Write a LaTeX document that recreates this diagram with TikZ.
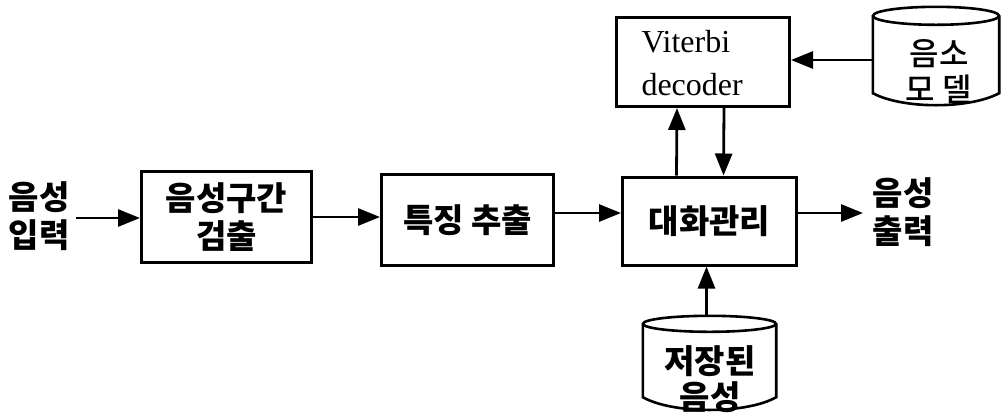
\documentclass[tikz,border=0pt]{standalone}
\usepackage{fontspec}
\setmainfont{Liberation Serif}
\newfontfamily\kr{Noto Sans CJK KR}
\newfontfamily\krm{Noto Sans CJK KR Medium}
\usetikzlibrary{arrows.meta,calc}
\tikzset{
  blk/.style={draw,line width=3pt,inner sep=0pt,align=center,font=\kr\bfseries\fontsize{33}{38}\selectfont},
  lbl/.style={inner sep=0pt,align=center,font=\kr\bfseries\fontsize{33}{38}\selectfont},
  dbox/.style={inner sep=0pt},
  conn/.style={line width=2.8pt,-{Triangle[length=22pt,width=17pt]}},
  cyl/.style={line width=2.6pt,fill=white}
}
\begin{document}
\begin{tikzpicture}[x=1pt,y=-1pt]
\useasboundingbox (0,0) rectangle (1003,416);
% blocks
\node[blk,minimum width=170pt,minimum height=91pt] (det) at (226.5,217) {음성구간\\검출};
\node[blk,minimum width=172pt,minimum height=91pt] (feat) at (467.5,220) {특징 추출};
\node[blk,minimum width=174pt,minimum height=88pt] (dlg) at (709.5,221) {대화관리};
\node[blk,minimum width=173pt,minimum height=89pt,font=\fontsize{32}{38}\selectfont,align=left,text width=123pt] (vit) at (703,62) {\rule{0pt}{24pt}Viterbi\\[5pt]decoder};
% text labels
\node[lbl] (in) at (39,216) {음성\\입력};
\node[lbl] (out) at (903,212) {음성\\출력};
% cylinders
\node[dbox,minimum width=126pt,minimum height=100pt] (db1) at (936,57) {};
\draw[cyl] ($(db1.north west)+(0,9)$) -- ($(db1.south west)+(0,-14)$)
  .. controls ($(db1.south west)+(30,2)$) and ($(db1.south east)+(-30,2)$) .. ($(db1.south east)+(0,-14)$)
  -- ($(db1.north east)+(0,9)$);
\draw[cyl] ($(db1.north)+(0,9)$) ellipse [x radius=63pt,y radius=9pt];
\node[font=\krm\fontsize{32}{36}\selectfont,align=center,inner sep=0pt] (db1t) at (939,72) {음소\\모 델};
\node[dbox,minimum width=133pt,minimum height=96pt] (db2) at (709.5,364) {};
\draw[cyl] ($(db2.north west)+(0,8)$) -- ($(db2.south west)+(0,-15)$)
  .. controls ($(db2.south west)+(30,2)$) and ($(db2.south east)+(-30,2)$) .. ($(db2.south east)+(0,-15)$)
  -- ($(db2.north east)+(0,8)$);
\draw[cyl] ($(db2.north)+(0,8)$) ellipse [x radius=66.5pt,y radius=8pt];
\node[lbl,font=\kr\bfseries\fontsize{33}{36}\selectfont] (db2t) at (710,379) {저장된\\음성};
% connectors
\draw[conn] ($(in.east)+(6,2)$) -- (det.west |- {$(in.east)+(6,2)$});
\draw[conn] (det.east) -- (det.east -| feat.west);
\draw[conn] ($(feat.east)+(0,-7)$) -- (dlg.west |- {$(feat.east)+(0,-7)$});
\draw[conn] ($(dlg.east)+(0,-8)$) -- ($(dlg.east)+(65,-8)$) coordinate (outend);
\draw[conn] ($(dlg.north)+(-33,0)$) -- ($(vit.south)+(-26,0)$);
\draw[conn] ($(vit.south)+(21,0)$) -- ($(dlg.north)+(14,0)$);
\draw[conn] (db1.west |- vit.east) ++(0,-2) -- ($(vit.east)+(0,-2)$);
\draw[conn] (db2.north -| dlg.south) ++(-3,0) -- ($(dlg.south)+(-3,0)$);
\end{tikzpicture}
\end{document}
